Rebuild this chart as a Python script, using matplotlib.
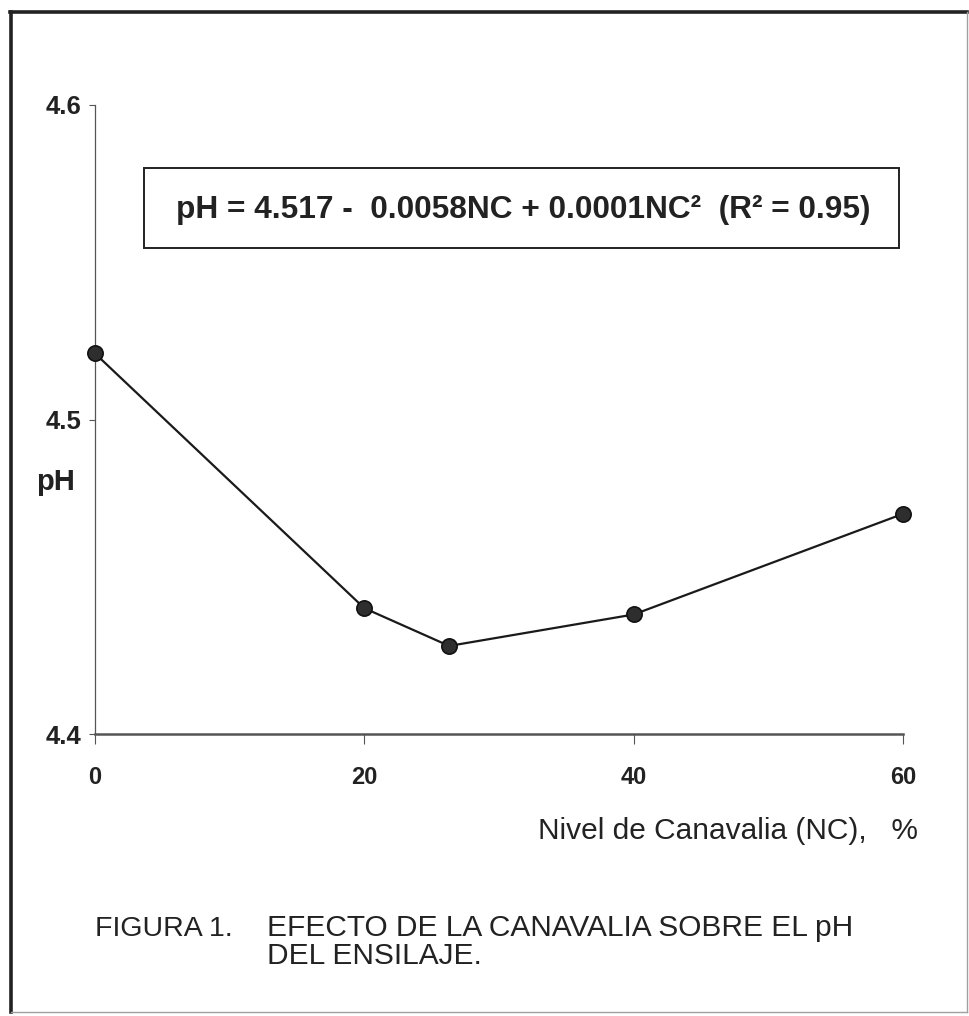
import matplotlib
matplotlib.use("Agg")
import matplotlib.pyplot as plt
from matplotlib.lines import Line2D
from matplotlib.patches import Rectangle

# ---- data ----
nivel_canavalia = [0, 20, 26.3, 40, 60]
ph_values = [4.521, 4.440, 4.428, 4.438, 4.470]
x_ticks = [0, 20, 40, 60]
y_ticks = [4.4, 4.5, 4.6]
y_ticklabels = ["4.4", "4.5", "4.6"]
equation = "pH = 4.517 -  0.0058NC + 0.0001NC²  (R² = 0.95)"
x_label = "Nivel de Canavalia (NC),   %"
y_label = "pH"
caption_num = "FIGURA 1."
caption_l1 = "EFECTO DE LA CANAVALIA SOBRE EL pH"
caption_l2 = "DEL ENSILAJE."

W, H = 969, 1016
DPI = 100
SANS = ["Liberation Sans", "DejaVu Sans"]
INK = "#222222"

fig = plt.figure(figsize=(W / DPI, H / DPI), dpi=DPI)
fig.patch.set_facecolor("white")

def fx(px):
    return px / W

def fy(py):
    return 1 - py / H

# outer frame
fig.add_artist(Line2D([fx(11), fx(11)], [fy(12), fy(1012)], color="#222222", lw=2.6))
fig.add_artist(Line2D([fx(10), fx(967)], [fy(12), fy(12)], color="#222222", lw=2.6))
fig.add_artist(Line2D([fx(967), fx(967)], [fy(12), fy(1012)], color="#a0a0a0", lw=1.0))
fig.add_artist(Line2D([fx(11), fx(967)], [fy(1012), fy(1012)], color="#a0a0a0", lw=1.0))

# axes
left, right, top, bottom = 95, 903, 105, 734
ax = fig.add_axes([fx(left), fy(bottom), fx(right - left), (bottom - top) / H])
ax.plot(nivel_canavalia, ph_values, color="#1a1a1a", lw=1.6, marker="o",
        markersize=11, markerfacecolor="#2e2e2e", markeredgecolor="#111111",
        markeredgewidth=1.2, clip_on=False, zorder=3)
ax.set_xlim(0, 60)
ax.set_ylim(4.4, 4.6)
for s in ["top", "right"]:
    ax.spines[s].set_visible(False)
ax.spines["left"].set_color("#555555")
ax.spines["left"].set_linewidth(0.9)
ax.spines["bottom"].set_color("#555555")
ax.spines["bottom"].set_linewidth(1.8)
ax.set_xticks(x_ticks)
ax.set_yticks(y_ticks)
ax.set_yticklabels(y_ticklabels)
ax.tick_params(axis="y", direction="out", length=4, width=0.8, color="#555555", pad=6)
ax.tick_params(axis="x", direction="out", length=7, width=0.8, color="#555555", pad=16)
for lab in ax.get_yticklabels():
    lab.set_fontfamily(SANS)
    lab.set_fontweight("bold")
    lab.set_fontsize(18.5)
    lab.set_color(INK)
for lab in ax.get_xticklabels():
    lab.set_fontfamily(SANS)
    lab.set_fontweight("bold")
    lab.set_fontsize(17)
    lab.set_color(INK)

# y label
fig.text(fx(56), fy(482), y_label, ha="center", va="center", fontsize=21,
         fontweight="bold", family=SANS, color=INK)
# x label
fig.text(fx(918), fy(839), x_label, ha="right", va="baseline", fontsize=21.5,
         family=SANS, color=INK)

# equation box
fig.add_artist(Rectangle((fx(144), fy(248)), fx(899 - 144), (248 - 168) / H,
                         transform=fig.transFigure, fill=False,
                         edgecolor="#222222", lw=1.4))
fig.text(fx(523), fy(218), equation, ha="center", va="baseline", fontsize=22.8,
         fontweight="bold", family=SANS, color=INK)

# caption
fig.text(fx(95), fy(936), caption_num, ha="left", va="baseline", fontsize=20.5,
         family=SANS, color=INK)
fig.text(fx(267), fy(936), caption_l1, ha="left", va="baseline", fontsize=21.5,
         family=SANS, color=INK)
fig.text(fx(267), fy(964), caption_l2, ha="left", va="baseline", fontsize=21.5,
         family=SANS, color=INK)

fig.savefig("out.png", dpi=DPI, facecolor="white")
